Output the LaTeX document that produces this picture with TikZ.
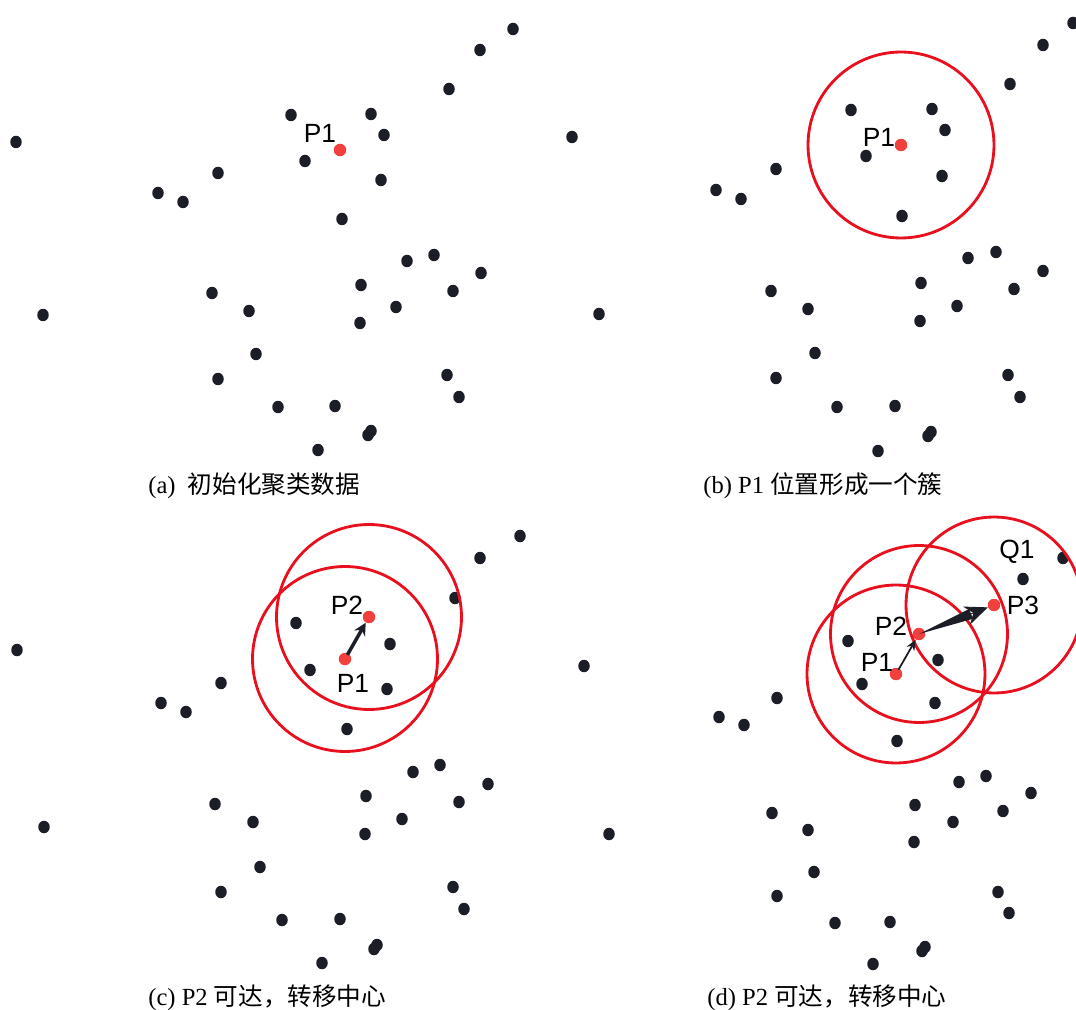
\documentclass[tikz,border=0pt]{standalone}
\usepackage{fontspec}
\setmainfont{Liberation Serif}
\setsansfont{Liberation Sans}
\newfontfamily\cjk{Noto Sans CJK SC}
\usetikzlibrary{arrows.meta,calc}
\definecolor{dotdark}{HTML}{1B1E26}
\definecolor{ptred}{HTML}{F2403F}
\definecolor{ringred}{HTML}{E8101E}

\tikzset{
  centre/.style={circle,fill=ptred,inner sep=0pt,minimum size=0.25cm},
  ptlabel/.style={font=\sffamily\fontsize{15}{17}\selectfont,inner sep=0pt},
  ring/.style={draw=ringred,line width=1.6pt},
  caption/.style={font=\fontsize{14}{16}\selectfont,anchor=west,inner sep=0pt},
  moveto/.style={dotdark,line width=2pt,-{Stealth[length=7pt,width=7pt]},shorten <=-1pt}
}

\begin{document}
\begin{tikzpicture}[x=0.02cm,y=-0.02cm]
\useasboundingbox (0,0) rectangle (1076,1010);

% (a) raw data
\foreach \x/\y in {513/29,480/50,449/89,291/115,371/114,384/135,16/142,572/137,
  305/161,381/180,218/173,158/193,183/202,342/219,434/255,407/261,481/273,
  361/285,212/293,453/291,43/315,249/311,396/307,599/314,360/323,256/354,
  218/379,447/375,459/397,278/407,335/406,371/431,368/435,318/450}
  \fill[dotdark] (\x,\y) ellipse (0.115cm and 0.125cm);
\node[centre] (a1) at (340,150) {};
\node[ptlabel] (a1l) at (320,133) {P1};
\node[caption] (capa) at (148,486) {(a)\ \ {\cjk 初始化聚类数据}};

% (b) first cluster
\foreach \x/\y in {1073/23,1043/45,1010/84,851/110,932/109,945/130,866/156,
  776/169,942/176,716/190,741/199,902/216,968/258,996/252,1043/271,921/283,
  1014/289,771/291,957/306,808/309,920/321,815/353,776/378,1008/375,1020/397,
  837/407,895/406,931/432,928/436,878/451}
  \fill[dotdark] (\x,\y) ellipse (0.115cm and 0.125cm);
\node[centre] (b1) at (901,145) {};
\draw[ring] (b1.center) circle (1.86cm);
\node[ptlabel] (b1l) at (879,137) {P1};
\node[caption] (capb) at (703,486) {(b) P1 {\cjk 位置形成一个簇}};

% (c) move to P2
\foreach \x/\y in {520/536,480/558,455/598,296/623,17/650,390/644,584/666,
  310/670,387/689,221/683,161/703,186/712,347/729,413/772,440/765,488/784,
  366/796,215/804,459/802,44/827,253/822,402/819,609/834,365/834,260/867,
  221/892,453/887,464/909,282/920,340/919,377/945,374/949,322/963}
  \fill[dotdark] (\x,\y) ellipse (0.115cm and 0.125cm);
\node[centre] (c1) at (345,659) {};
\node[centre] (c2) at (369,617) {};
\draw[ring] (c1.center) circle (1.85cm);
\draw[ring] (c2.center) circle (1.85cm);
\draw[moveto] (c1) -- (c2);
\node[ptlabel] (c2l) at (347,605) {P2};
\node[ptlabel] (c1l) at (353,683) {P1};
\node[caption] (capc) at (148,998) {(c) P2 {\cjk 可达，转移中心}};

% (d) move again to P3
\foreach \x/\y in {1063/558,1023/579,848/641,938/660,862/684,777/698,935/703,
  719/717,744/725,897/741,959/782,986/776,1031/793,915/805,1003/811,772/813,
  953/822,808/830,914/842,814/872,777/896,998/892,1009/913,835/923,890/922,
  925/947,922/951,873/964}
  \fill[dotdark] (\x,\y) ellipse (0.115cm and 0.125cm);
\node[centre] (d1) at (896,674) {};
\node[centre] (d2) at (919,634) {};
\node[centre] (d3) at (994,605) {};
\draw[ring] (d1.center) circle (1.78cm);
\draw[ring] (d2.center) circle (1.77cm);
\draw[ring] (d3.center) circle (1.76cm);
\draw[moveto,line width=1pt,-{Stealth[length=6pt,width=5pt]}] (d1) -- (d2);
\coordinate (hb) at ($(d3.center)!20pt!(d2.center)$);
\coordinate (hm) at ($(d3.center)!14pt!(d2.center)$);
\fill[dotdark] (d2.center) -- ($(hm)!3pt!90:(d2.center)$) -- ($(hm)!3pt!-90:(d2.center)$) -- cycle;
\draw[dotdark,line width=0.5pt,-{Stealth[length=13pt,width=11pt]}] (hb) -- (d3);
\node[ptlabel] (dq) at (1017,552) {Q1};
\node[ptlabel] (d3l) at (1023,605) {P3};
\node[ptlabel] (d2l) at (891,626) {P2};
\node[ptlabel] (d1l) at (877,662) {P1};
\node[caption] (capd) at (707,998) {(d) P2 {\cjk 可达，转移中心}};
\end{tikzpicture}
\end{document}
